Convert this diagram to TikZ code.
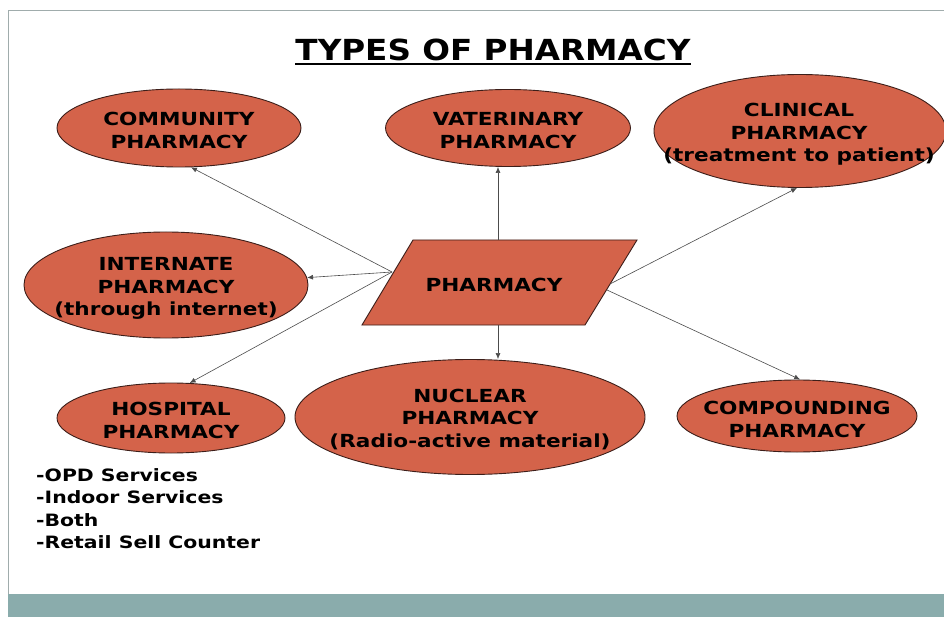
\documentclass[tikz,border=0pt]{standalone}
\usepackage{fontspec}
\setmainfont{DejaVu Sans}
\newfontfamily\boxfont[FakeStretch=1.2]{DejaVu Sans Bold}
\newfontfamily\titlefont[FakeStretch=1.25]{DejaVu Sans Condensed Bold}
\usetikzlibrary{shapes.geometric,arrows.meta}
\definecolor{ovalfill}{RGB}{212,99,74}
\definecolor{ovaledge}{RGB}{60,30,25}
\definecolor{framegray}{RGB}{160,172,172}
\definecolor{barteal}{RGB}{138,172,172}
\begin{document}
\begin{tikzpicture}[x=1pt,y=-1pt,
  oval/.style={ellipse, draw=ovaledge, line width=0.9pt, fill=ovalfill, inner sep=0pt},
  ovaltext/.style={align=center, inner sep=0pt, yshift=-2.5pt, font=\boxfont\fontsize{18}{22.5}\selectfont},
  link/.style={draw=black!70, line width=0.6pt, -{Latex[length=6pt,width=5pt]}}]
\useasboundingbox (0,0) rectangle (944,617);
\fill[white] (0,0) rectangle (944,617);
% slide frame
\draw[framegray, line width=1pt] (8,594) -- (8,11) -- (944,11);
\fill[barteal] (8,594) rectangle (944,617);
% title
\node[font=\titlefont\fontsize{29}{32}\selectfont, inner sep=0pt] (title) at (493,50) {TYPES OF PHARMACY};
\draw[line width=1.4pt] ([yshift=-3pt]title.south west) -- ([yshift=-3pt]title.south east);
% ovals
\node[oval, minimum width=244pt, minimum height=78pt] (comm) at (179,128) {};
\node[ovaltext] (commt) at (comm.center) {COMMUNITY\\PHARMACY};
\node[oval, minimum width=245pt, minimum height=77pt] (vat) at (508,128) {};
\node[ovaltext] (vatt) at (vat.center) {VATERINARY\\PHARMACY};
\node[oval, minimum width=292pt, minimum height=113pt] (clin) at (800,131) {};
\node[ovaltext] (clint) at (799,132) {CLINICAL\\PHARMACY\\(treatment to patient)};
\node[oval, minimum width=284pt, minimum height=106pt] (int) at (166,285) {};
\node[ovaltext] (intt) at (166,286) {INTERNATE\\PHARMACY\\(through internet)};
\node[oval, minimum width=228pt, minimum height=70pt] (hosp) at (171,418) {};
\node[ovaltext] (hospt) at (hosp.center) {HOSPITAL\\PHARMACY};
\node[oval, minimum width=350pt, minimum height=115pt] (nuc) at (470,417) {};
\node[ovaltext] (nuct) at (nuc.center) {NUCLEAR\\PHARMACY\\(Radio-active material)};
\node[oval, minimum width=240pt, minimum height=72pt] (comp) at (797,416) {};
\node[ovaltext] (compt) at (797,417) {COMPOUNDING\\PHARMACY};
% central parallelogram
\fill[ovalfill, draw=ovaledge, line width=0.9pt] (413,240) -- (637,240) -- (585,325) -- (362,325) -- cycle;
\node[ovaltext] (ph) at (494,282) {PHARMACY};
\coordinate (pl) at (392,272);
\coordinate (prt) at (610,284);
\coordinate (prb) at (607,290);
\coordinate (ptop) at (498,240);
\coordinate (pbot) at (498,325);
% connectors
\draw[link] (pl) -- (comm.-73);
\draw[link] (pl) -- (int.3);
\draw[link] (pl) -- (hosp.62);
\draw[link] (ptop) -- (ptop |- vat.south);
\draw[link] (pbot) -- (pbot |- nuc.north);
\draw[link] (prt) -- (clin.-93);
\draw[link] (prb) -- (comp.85);
% list
\node[anchor=north west, align=left, inner sep=0pt, font=\boxfont\fontsize{17}{22.5}\selectfont] (list) at (36,468)
  {-OPD Services\\-Indoor Services\\-Both\\-Retail Sell Counter};
\end{tikzpicture}
\end{document}
